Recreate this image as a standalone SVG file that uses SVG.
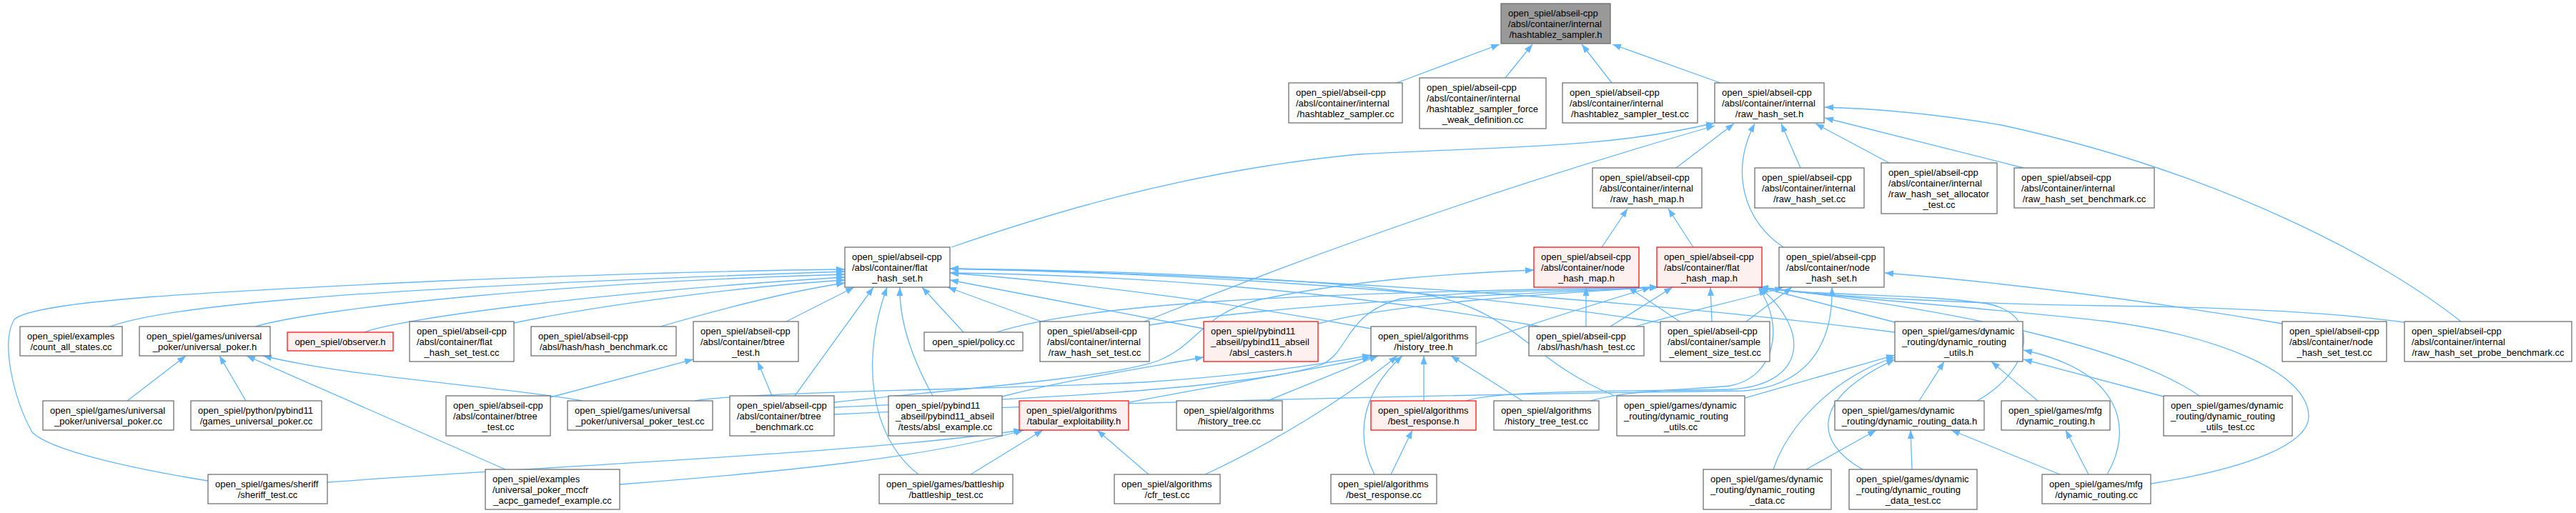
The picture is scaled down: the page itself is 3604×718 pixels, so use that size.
<svg xmlns="http://www.w3.org/2000/svg" width="3604" height="718" viewBox="0 0 3604 718">
<defs>
<style>
.n rect{fill:#fff;stroke:#666;stroke-width:1.2}
.r rect{fill:#FFF0F0;stroke:#f00;stroke-width:1.2}
.g rect{fill:#999;stroke:#666;stroke-width:1.2}
text{font-family:"Liberation Sans",Arial,Helvetica,sans-serif;font-size:13px;fill:#000}
.c{text-anchor:middle}
#edges path{fill:none;stroke:#63B8FF;stroke-width:1.3;marker-end:url(#a)}
</style>
<marker id="a" markerUnits="userSpaceOnUse" markerWidth="13" markerHeight="10" refX="12" refY="4.5" orient="auto"><path d="M0,0 L12,4.5 L0,9 z" fill="#63B8FF"/></marker>
</defs>
<rect width="3604" height="718" fill="#fff"/>
<g id="edges">
<path d="M1954,116 L2098,62"/>
<path d="M2106,109 L2144,62"/>
<path d="M2255,116 L2213,62"/>
<path d="M2407,116 L2256,62"/>
<path d="M1331,346 C1450,305 1650,240 1900,216 C2100,205 2250,208 2399,172"/>
<path d="M1601,450 C1700,410 2000,290 2399,176"/>
<path d="M2345,235 L2426,173"/>
<path d="M2519,235 L2492,173"/>
<path d="M2643,228 L2540,173"/>
<path d="M2831,235 L2553,165"/>
<path d="M2495,346 C2440,310 2420,240 2455,173"/>
<path d="M3443,450 C3330,360 3100,240 2800,175 C2700,158 2620,152 2553,150"/>
<path d="M2241,346 L2277,292"/>
<path d="M2369,346 L2334,292"/>
<path d="M291,673 C180,655 70,630 45,605 C20,560 0,480 20,447 C50,420 300,408 620,393 C900,382 1080,378 1182,377"/>
<path d="M154,457 C230,430 450,405 1182,380"/>
<path d="M357,457 C450,430 800,395 1182,384"/>
<path d="M510,465 C560,445 850,408 1182,388"/>
<path d="M719,452 C850,425 1050,400 1182,392"/>
<path d="M924,457 C1000,435 1100,408 1182,396"/>
<path d="M1100,450 L1195,402"/>
<path d="M1112,554 L1222,402"/>
<path d="M1285,664 C1215,610 1205,500 1241,402"/>
<path d="M1305,554 C1275,500 1258,450 1259,402"/>
<path d="M1348,465 L1290,402"/>
<path d="M1457,450 L1326,402"/>
<path d="M1684,460 L1329,392"/>
<path d="M1918,460 C1700,420 1500,395 1329,382"/>
<path d="M2154,457 C1900,410 1600,385 1329,382"/>
<path d="M2325,452 C2000,400 1600,382 1329,376"/>
<path d="M2651,465 C2300,420 1800,385 1329,376"/>
<path d="M2259,554 C2130,500 2120,430 1980,410 C1800,385 1500,378 1329,376"/>
<path d="M2219,457 L2219,402"/>
<path d="M2350,450 L2278,402"/>
<path d="M1167,563 C1300,548 1550,530 1620,505 C1680,480 1680,440 1760,420 C1900,390 2050,382 2146,378"/>
<path d="M2065,481 C2150,450 2250,420 2310,402"/>
<path d="M2253,457 L2340,402"/>
<path d="M2395,450 L2393,402"/>
<path d="M1844,453 C1950,425 2150,412 2320,402"/>
<path d="M1394,465 C1520,425 1800,410 2320,402"/>
<path d="M1608,455 C1800,425 2100,412 2320,402"/>
<path d="M1167,570 C1400,560 1750,545 1850,510 C1890,490 1880,440 1960,418 C2080,405 2200,408 2320,402"/>
<path d="M2651,451 L2462,402"/>
<path d="M2766,561 C2840,520 2860,440 2780,425 C2680,410 2540,415 2462,402"/>
<path d="M3363,451 C3250,435 3100,430 2950,428 C2750,425 2550,415 2462,402"/>
<path d="M3009,677 C3150,655 3230,620 3230,583 C3230,520 3100,470 2950,450 C2750,428 2550,415 2462,402"/>
<path d="M3077,554 C3000,500 2800,440 2462,402"/>
<path d="M2051,561 C2100,545 2300,548 2420,545 C2520,540 2540,470 2462,402"/>
<path d="M2225,561 C2280,545 2380,545 2420,540 C2480,530 2500,460 2460,402"/>
<path d="M2443,450 L2507,402"/>
<path d="M3193,453 C3000,420 2800,395 2637,382"/>
<path d="M1167,580 C1600,560 2200,550 2440,547 C2530,540 2565,480 2563,402"/>
<path d="M2288,457 C2380,430 2440,420 2495,402"/>
<path d="M2441,557 L2651,497"/>
<path d="M2481,657 C2500,600 2560,530 2651,500"/>
<path d="M2606,657 C2540,620 2530,560 2651,503"/>
<path d="M2685,561 L2720,506"/>
<path d="M2851,561 L2786,506"/>
<path d="M2948,664 C2985,600 2970,520 2831,490"/>
<path d="M3027,555 L2831,503"/>
<path d="M2527,657 L2625,602"/>
<path d="M2675,657 L2673,602"/>
<path d="M2882,664 L2730,602"/>
<path d="M2922,664 L2890,602"/>
<path d="M1580,563 C1700,540 1850,515 1918,500"/>
<path d="M1773,561 L1928,498"/>
<path d="M1686,664 C1780,620 1880,560 1955,498"/>
<path d="M1923,664 C1895,610 1905,550 1962,498"/>
<path d="M1992,561 L1992,498"/>
<path d="M2130,561 L2030,498"/>
<path d="M972,561 C1050,548 1400,545 1600,535 C1750,525 1850,510 1918,497"/>
<path d="M1946,664 L1976,602"/>
<path d="M458,675 C800,650 1200,635 1430,602"/>
<path d="M867,678 C1100,660 1300,640 1432,602"/>
<path d="M1358,664 L1459,602"/>
<path d="M1607,664 L1535,602"/>
<path d="M770,556 L970,503"/>
<path d="M1080,554 L1060,506"/>
<path d="M178,561 L260,498"/>
<path d="M344,561 L307,498"/>
<path d="M707,657 L345,498"/>
<path d="M815,561 C700,540 500,530 368,498"/>
<path d="M1402,555 C1500,530 1600,515 1684,500"/>
</g>
<g id="n_root" class="g"><rect x="2100" y="5" width="153" height="56"/><text x="2110" y="22.6">open_spiel/abseil-cpp</text><text x="2110" y="37.6">/absl/container/internal</text><text class="c" x="2176.5" y="52.6">/hashtablez_sampler.h</text></g>
<g id="n_hs_cc" class="n"><rect x="1803" y="116" width="159" height="56"/><text x="1813" y="133.6">open_spiel/abseil-cpp</text><text x="1813" y="148.6">/absl/container/internal</text><text class="c" x="1882.5" y="163.6">/hashtablez_sampler.cc</text></g>
<g id="n_hs_force" class="n"><rect x="1986" y="109" width="177" height="71"/><text x="1996" y="126.6">open_spiel/abseil-cpp</text><text x="1996" y="141.6">/absl/container/internal</text><text x="1996" y="156.6">/hashtablez_sampler_force</text><text class="c" x="2074.5" y="171.6">_weak_definition.cc</text></g>
<g id="n_hs_test" class="n"><rect x="2186" y="116" width="189" height="56"/><text x="2196" y="133.6">open_spiel/abseil-cpp</text><text x="2196" y="148.6">/absl/container/internal</text><text class="c" x="2280.5" y="163.6">/hashtablez_sampler_test.cc</text></g>
<g id="n_raw_hash_set_h" class="n"><rect x="2399" y="116" width="153" height="56"/><text x="2409" y="133.6">open_spiel/abseil-cpp</text><text x="2409" y="148.6">/absl/container/internal</text><text class="c" x="2475.5" y="163.6">/raw_hash_set.h</text></g>
<g id="n_raw_hash_map_h" class="n"><rect x="2228" y="235" width="153" height="56"/><text x="2238" y="252.6">open_spiel/abseil-cpp</text><text x="2238" y="267.6">/absl/container/internal</text><text class="c" x="2304.5" y="282.6">/raw_hash_map.h</text></g>
<g id="n_raw_hash_set_cc" class="n"><rect x="2455" y="235" width="153" height="56"/><text x="2465" y="252.6">open_spiel/abseil-cpp</text><text x="2465" y="267.6">/absl/container/internal</text><text class="c" x="2531.5" y="282.6">/raw_hash_set.cc</text></g>
<g id="n_rhs_alloc" class="n"><rect x="2632" y="228" width="162" height="71"/><text x="2642" y="245.6">open_spiel/abseil-cpp</text><text x="2642" y="260.6">/absl/container/internal</text><text x="2642" y="275.6">/raw_hash_set_allocator</text><text class="c" x="2713" y="290.6">_test.cc</text></g>
<g id="n_rhs_bench" class="n"><rect x="2818" y="235" width="196" height="56"/><text x="2828" y="252.6">open_spiel/abseil-cpp</text><text x="2828" y="267.6">/absl/container/internal</text><text class="c" x="2916" y="282.6">/raw_hash_set_benchmark.cc</text></g>
<g id="n_flat_hash_set_h" class="n"><rect x="1182" y="346" width="147" height="56"/><text x="1192" y="363.6">open_spiel/abseil-cpp</text><text x="1192" y="378.6">/absl/container/flat</text><text class="c" x="1255.5" y="393.6">_hash_set.h</text></g>
<g id="n_node_hash_map_h" class="r"><rect x="2146" y="346" width="147" height="56"/><text x="2156" y="363.6">open_spiel/abseil-cpp</text><text x="2156" y="378.6">/absl/container/node</text><text class="c" x="2219.5" y="393.6">_hash_map.h</text></g>
<g id="n_flat_hash_map_h" class="r"><rect x="2318" y="346" width="147" height="56"/><text x="2328" y="363.6">open_spiel/abseil-cpp</text><text x="2328" y="378.6">/absl/container/flat</text><text class="c" x="2391.5" y="393.6">_hash_map.h</text></g>
<g id="n_node_hash_set_h" class="n"><rect x="2489" y="346" width="147" height="56"/><text x="2499" y="363.6">open_spiel/abseil-cpp</text><text x="2499" y="378.6">/absl/container/node</text><text class="c" x="2562.5" y="393.6">_hash_set.h</text></g>
<g id="n_count_all_states" class="n"><rect x="28" y="457" width="143" height="41"/><text x="38" y="474.6">open_spiel/examples</text><text class="c" x="99.5" y="489.6">/count_all_states.cc</text></g>
<g id="n_universal_poker_h" class="n"><rect x="195" y="457" width="183" height="41"/><text x="205" y="474.6">open_spiel/games/universal</text><text class="c" x="286.5" y="489.6">_poker/universal_poker.h</text></g>
<g id="n_observer_h" class="r"><rect x="402" y="465" width="148" height="26"/><text class="c" x="476" y="482.6">open_spiel/observer.h</text></g>
<g id="n_flat_hash_set_test" class="n"><rect x="573" y="450" width="146" height="56"/><text x="583" y="467.6">open_spiel/abseil-cpp</text><text x="583" y="482.6">/absl/container/flat</text><text class="c" x="646" y="497.6">_hash_set_test.cc</text></g>
<g id="n_hash_benchmark" class="n"><rect x="743" y="457" width="203" height="41"/><text x="753" y="474.6">open_spiel/abseil-cpp</text><text class="c" x="844.5" y="489.6">/absl/hash/hash_benchmark.cc</text></g>
<g id="n_btree_test_h" class="n"><rect x="970" y="450" width="147" height="56"/><text x="980" y="467.6">open_spiel/abseil-cpp</text><text x="980" y="482.6">/absl/container/btree</text><text class="c" x="1043.5" y="497.6">_test.h</text></g>
<g id="n_policy_cc" class="n"><rect x="1293" y="465" width="138" height="26"/><text class="c" x="1362" y="482.6">open_spiel/policy.cc</text></g>
<g id="n_raw_hash_set_test" class="n"><rect x="1455" y="450" width="153" height="56"/><text x="1465" y="467.6">open_spiel/abseil-cpp</text><text x="1465" y="482.6">/absl/container/internal</text><text class="c" x="1531.5" y="497.6">/raw_hash_set_test.cc</text></g>
<g id="n_absl_casters_h" class="r"><rect x="1684" y="450" width="160" height="56"/><text x="1694" y="467.6">open_spiel/pybind11</text><text x="1694" y="482.6">_abseil/pybind11_abseil</text><text class="c" x="1764" y="497.6">/absl_casters.h</text></g>
<g id="n_history_tree_h" class="n"><rect x="1918" y="457" width="147" height="41"/><text x="1928" y="474.6">open_spiel/algorithms</text><text class="c" x="1991.5" y="489.6">/history_tree.h</text></g>
<g id="n_hash_test" class="n"><rect x="2139" y="457" width="161" height="41"/><text x="2149" y="474.6">open_spiel/abseil-cpp</text><text class="c" x="2219.5" y="489.6">/absl/hash/hash_test.cc</text></g>
<g id="n_sample_element" class="n"><rect x="2323" y="450" width="153" height="56"/><text x="2333" y="467.6">open_spiel/abseil-cpp</text><text x="2333" y="482.6">/absl/container/sample</text><text class="c" x="2399.5" y="497.6">_element_size_test.cc</text></g>
<g id="n_dr_utils_h" class="n"><rect x="2651" y="450" width="179" height="56"/><text x="2661" y="467.6">open_spiel/games/dynamic</text><text x="2661" y="482.6">_routing/dynamic_routing</text><text class="c" x="2740.5" y="497.6">_utils.h</text></g>
<g id="n_node_hash_set_test" class="n"><rect x="3193" y="450" width="146" height="56"/><text x="3203" y="467.6">open_spiel/abseil-cpp</text><text x="3203" y="482.6">/absl/container/node</text><text class="c" x="3266" y="497.6">_hash_set_test.cc</text></g>
<g id="n_probe_bench" class="n"><rect x="3364" y="450" width="234" height="56"/><text x="3374" y="467.6">open_spiel/abseil-cpp</text><text x="3374" y="482.6">/absl/container/internal</text><text class="c" x="3481" y="497.6">/raw_hash_set_probe_benchmark.cc</text></g>
<g id="n_universal_poker_cc" class="n"><rect x="60" y="561" width="183" height="41"/><text x="70" y="578.6">open_spiel/games/universal</text><text class="c" x="151.5" y="593.6">_poker/universal_poker.cc</text></g>
<g id="n_games_universal_poker" class="n"><rect x="267" y="561" width="183" height="41"/><text x="277" y="578.6">open_spiel/python/pybind11</text><text class="c" x="358.5" y="593.6">/games_universal_poker.cc</text></g>
<g id="n_btree_test_cc" class="n"><rect x="624" y="554" width="146" height="56"/><text x="634" y="571.6">open_spiel/abseil-cpp</text><text x="634" y="586.6">/absl/container/btree</text><text class="c" x="697" y="601.6">_test.cc</text></g>
<g id="n_universal_poker_test" class="n"><rect x="794" y="561" width="203" height="41"/><text x="804" y="578.6">open_spiel/games/universal</text><text class="c" x="895.5" y="593.6">_poker/universal_poker_test.cc</text></g>
<g id="n_btree_benchmark" class="n"><rect x="1021" y="554" width="146" height="56"/><text x="1031" y="571.6">open_spiel/abseil-cpp</text><text x="1031" y="586.6">/absl/container/btree</text><text class="c" x="1094" y="601.6">_benchmark.cc</text></g>
<g id="n_absl_example" class="n"><rect x="1243" y="554" width="159" height="56"/><text x="1253" y="571.6">open_spiel/pybind11</text><text x="1253" y="586.6">_abseil/pybind11_abseil</text><text class="c" x="1322.5" y="601.6">/tests/absl_example.cc</text></g>
<g id="n_tabular_expl" class="r"><rect x="1426" y="561" width="153" height="41"/><text x="1436" y="578.6">open_spiel/algorithms</text><text class="c" x="1502.5" y="593.6">/tabular_exploitability.h</text></g>
<g id="n_history_tree_cc" class="n"><rect x="1646" y="561" width="148" height="41"/><text x="1656" y="578.6">open_spiel/algorithms</text><text class="c" x="1720" y="593.6">/history_tree.cc</text></g>
<g id="n_best_response_h" class="r"><rect x="1918" y="561" width="147" height="41"/><text x="1928" y="578.6">open_spiel/algorithms</text><text class="c" x="1991.5" y="593.6">/best_response.h</text></g>
<g id="n_history_tree_test" class="n"><rect x="2090" y="561" width="147" height="41"/><text x="2100" y="578.6">open_spiel/algorithms</text><text class="c" x="2163.5" y="593.6">/history_tree_test.cc</text></g>
<g id="n_dr_utils_cc" class="n"><rect x="2262" y="554" width="179" height="56"/><text x="2272" y="571.6">open_spiel/games/dynamic</text><text x="2272" y="586.6">_routing/dynamic_routing</text><text class="c" x="2351.5" y="601.6">_utils.cc</text></g>
<g id="n_dr_data_h" class="n"><rect x="2567" y="561" width="209" height="41"/><text x="2577" y="578.6">open_spiel/games/dynamic</text><text class="c" x="2671.5" y="593.6">_routing/dynamic_routing_data.h</text></g>
<g id="n_mfg_dr_h" class="n"><rect x="2800" y="561" width="152" height="41"/><text x="2810" y="578.6">open_spiel/games/mfg</text><text class="c" x="2876" y="593.6">/dynamic_routing.h</text></g>
<g id="n_dr_utils_test" class="n"><rect x="3027" y="554" width="180" height="56"/><text x="3037" y="571.6">open_spiel/games/dynamic</text><text x="3037" y="586.6">_routing/dynamic_routing</text><text class="c" x="3117" y="601.6">_utils_test.cc</text></g>
<g id="n_sheriff_test" class="n"><rect x="291" y="664" width="167" height="41"/><text x="301" y="681.6">open_spiel/games/sheriff</text><text class="c" x="374.5" y="696.6">/sheriff_test.cc</text></g>
<g id="n_mccfr_example" class="n"><rect x="679" y="657" width="188" height="56"/><text x="689" y="674.6">open_spiel/examples</text><text x="689" y="689.6">/universal_poker_mccfr</text><text class="c" x="773" y="704.6">_acpc_gamedef_example.cc</text></g>
<g id="n_battleship_test" class="n"><rect x="1230" y="664" width="187" height="41"/><text x="1240" y="681.6">open_spiel/games/battleship</text><text class="c" x="1323.5" y="696.6">/battleship_test.cc</text></g>
<g id="n_cfr_test" class="n"><rect x="1559" y="664" width="148" height="41"/><text x="1569" y="681.6">open_spiel/algorithms</text><text class="c" x="1633" y="696.6">/cfr_test.cc</text></g>
<g id="n_best_response_cc" class="n"><rect x="1862" y="664" width="148" height="41"/><text x="1872" y="681.6">open_spiel/algorithms</text><text class="c" x="1936" y="696.6">/best_response.cc</text></g>
<g id="n_dr_data_cc" class="n"><rect x="2383" y="657" width="179" height="56"/><text x="2393" y="674.6">open_spiel/games/dynamic</text><text x="2393" y="689.6">_routing/dynamic_routing</text><text class="c" x="2472.5" y="704.6">_data.cc</text></g>
<g id="n_dr_data_test" class="n"><rect x="2587" y="657" width="179" height="56"/><text x="2597" y="674.6">open_spiel/games/dynamic</text><text x="2597" y="689.6">_routing/dynamic_routing</text><text class="c" x="2676.5" y="704.6">_data_test.cc</text></g>
<g id="n_mfg_dr_cc" class="n"><rect x="2857" y="664" width="152" height="41"/><text x="2867" y="681.6">open_spiel/games/mfg</text><text class="c" x="2933" y="696.6">/dynamic_routing.cc</text></g>
</svg>
